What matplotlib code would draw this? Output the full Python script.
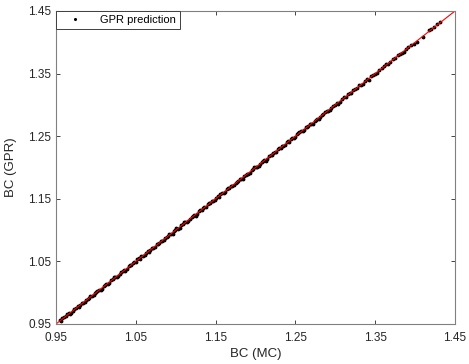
import numpy as np
import matplotlib.pyplot as plt

plt.rcParams['font.family'] = ['Liberation Sans', 'DejaVu Sans']

# BC values from Monte Carlo and the GPR prediction
bc_mc = [0.955, 0.958, 0.962, 0.966, 0.969, 0.973, 0.977, 0.980, 0.984, 0.988,
         0.991, 0.995, 0.999, 1.002, 1.006, 1.010, 1.013, 1.017, 1.021, 1.024,
         1.028, 1.032, 1.035, 1.039, 1.043, 1.046, 1.050, 1.054, 1.057, 1.061,
         1.065, 1.068, 1.072, 1.076, 1.079, 1.083, 1.087, 1.090, 1.094, 1.098,
         1.101, 1.105, 1.109, 1.112, 1.116, 1.120, 1.123, 1.127, 1.131, 1.134,
         1.138, 1.142, 1.145, 1.149, 1.153, 1.156, 1.160, 1.164, 1.167, 1.171,
         1.175, 1.178, 1.182, 1.186, 1.189, 1.193, 1.197, 1.200, 1.204, 1.208,
         1.211, 1.215, 1.219, 1.222, 1.226, 1.230, 1.233, 1.237, 1.241, 1.244,
         1.248, 1.252, 1.255, 1.259, 1.263, 1.266, 1.270, 1.274, 1.277, 1.281,
         1.285, 1.289, 1.293, 1.297, 1.302, 1.306, 1.311, 1.316, 1.320, 1.325,
         1.330, 1.335, 1.340, 1.345, 1.350, 1.355, 1.361, 1.366, 1.372, 1.378,
         1.384, 1.389, 1.395, 1.402, 1.410, 1.418, 1.424, 1.428,
         0.9565, 0.960, 0.964, 0.9675, 0.971, 0.975, 0.9785, 0.982, 0.986, 0.9895,
         0.993, 0.997, 1.0005, 1.004, 1.008, 1.0115, 1.015, 1.019, 1.0225, 1.026,
         1.030, 1.0335, 1.037, 1.041, 1.0445, 1.048, 1.052, 1.0555, 1.059, 1.063,
         1.0665, 1.070, 1.074, 1.0775, 1.081, 1.085, 1.0885, 1.092, 1.096, 1.0995,
         1.103, 1.107, 1.1105, 1.114, 1.118, 1.1215, 1.125, 1.129, 1.1325, 1.136,
         1.140, 1.1435, 1.147, 1.151, 1.1545, 1.158, 1.162, 1.1655, 1.169, 1.173,
         1.1765, 1.180, 1.184, 1.1875, 1.191, 1.195, 1.1985, 1.202, 1.206, 1.2095,
         1.213, 1.217, 1.2205, 1.224, 1.228, 1.2315, 1.235, 1.239, 1.2425, 1.246,
         1.250, 1.2535, 1.257, 1.261, 1.2645, 1.268, 1.272, 1.2755, 1.279, 1.283,
         1.287, 1.291, 1.295, 1.2995, 1.304, 1.3085, 1.3135, 1.318, 1.3225, 1.3275,
         1.3325, 1.3375, 1.3425, 1.3475, 1.3525, 1.358, 1.3635, 1.369, 1.375, 1.381,
         1.3865, 1.3915, 1.398, 1.420, 1.431]
bc_gpr = [0.957, 0.959, 0.963, 0.967, 0.968, 0.974, 0.978, 0.981, 0.983, 0.989,
          0.992, 0.994, 1.000, 1.003, 1.005, 1.011, 1.014, 1.016, 1.022, 1.025,
          1.027, 1.033, 1.036, 1.038, 1.044, 1.047, 1.049, 1.055, 1.058, 1.060,
          1.066, 1.069, 1.071, 1.077, 1.080, 1.082, 1.088, 1.091, 1.093, 1.099,
          1.103, 1.104, 1.110, 1.113, 1.115, 1.121, 1.124, 1.126, 1.132, 1.135,
          1.137, 1.143, 1.146, 1.148, 1.154, 1.157, 1.159, 1.165, 1.168, 1.170,
          1.176, 1.179, 1.181, 1.187, 1.190, 1.192, 1.198, 1.201, 1.203, 1.209,
          1.212, 1.214, 1.220, 1.223, 1.225, 1.231, 1.234, 1.236, 1.242, 1.245,
          1.247, 1.253, 1.256, 1.258, 1.264, 1.267, 1.269, 1.275, 1.278, 1.280,
          1.286, 1.290, 1.292, 1.298, 1.303, 1.305, 1.312, 1.317, 1.319, 1.326,
          1.331, 1.334, 1.341, 1.346, 1.349, 1.356, 1.362, 1.365, 1.373, 1.379,
          1.383, 1.390, 1.396, 1.401, 1.408, 1.420, 1.425, 1.429,
          0.9555, 0.961, 0.966, 0.9665, 0.971, 0.976, 0.9765, 0.983, 0.985, 0.9905,
          0.995, 0.996, 1.0005, 1.005, 1.006, 1.0125, 1.014, 1.020, 1.0245, 1.025,
          1.030, 1.0345, 1.035, 1.042, 1.0435, 1.049, 1.054, 1.0545, 1.059, 1.064,
          1.0645, 1.071, 1.073, 1.0785, 1.083, 1.084, 1.0885, 1.093, 1.094, 1.1005,
          1.102, 1.108, 1.1125, 1.113, 1.118, 1.1225, 1.123, 1.130, 1.1315, 1.137,
          1.142, 1.1425, 1.147, 1.152, 1.1525, 1.159, 1.161, 1.1665, 1.171, 1.172,
          1.1765, 1.181, 1.182, 1.1885, 1.190, 1.196, 1.2005, 1.201, 1.206, 1.2105,
          1.211, 1.218, 1.2195, 1.225, 1.230, 1.2305, 1.235, 1.240, 1.2405, 1.247,
          1.249, 1.2545, 1.259, 1.260, 1.2645, 1.269, 1.270, 1.2765, 1.278, 1.284,
          1.289, 1.290, 1.295, 1.3005, 1.302, 1.3095, 1.3125, 1.319, 1.3245, 1.3265,
          1.3325, 1.3385, 1.3405, 1.3485, 1.3515, 1.359, 1.3655, 1.368, 1.375, 1.382,
          1.3845, 1.3925, 1.3965, 1.422, 1.433]

ticks = [0.95, 1.05, 1.15, 1.25, 1.35, 1.45]
grey = '#262626'

fig = plt.figure(figsize=(4.69, 3.64), dpi=100)
ax = fig.add_axes([56 / 469, 40 / 364, 399 / 469, 313 / 364])

ax.plot(bc_mc, bc_gpr, '.', color='black', markersize=3.5, label='GPR prediction')
ax.plot([0.95, 1.45], [0.95, 1.45], color='red', linewidth=0.8)

ax.set_xlim(0.95, 1.45)
ax.set_ylim(0.95, 1.45)
ax.set_xticks(ticks)
ax.set_yticks(ticks)
ax.set_xticklabels([f'{t:.2f}' for t in ticks])
ax.set_yticklabels([f'{t:.2f}' for t in ticks])
ax.tick_params(direction='in', top=True, right=True, length=3, width=0.6,
               colors=grey, labelsize=8.5, labelcolor=grey)
ax.tick_params(axis='x', pad=6)
for s in ax.spines.values():
    s.set_color('#808080')
    s.set_linewidth(0.8)

ax.set_xlabel('BC (MC)', fontsize=9.5, color=grey, labelpad=3)
ax.set_ylabel('BC (GPR)', fontsize=9.5, color=grey, labelpad=8)

leg = ax.legend(loc='upper left', fontsize=8, fancybox=False, framealpha=1,
                borderaxespad=0, handlelength=2.8, borderpad=0.35, markerscale=0.7)
leg.get_frame().set_edgecolor('#404040')
leg.get_frame().set_linewidth(0.7)

fig.savefig('out.png', dpi=100)
